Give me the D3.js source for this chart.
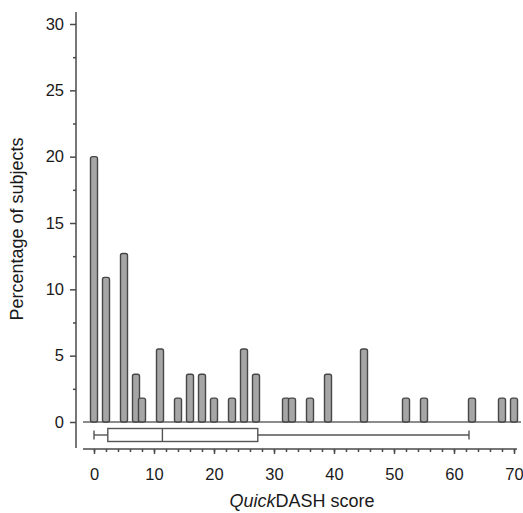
<!DOCTYPE html>
<html>
<head>
<meta charset="utf-8">
<script src="https://cdn.jsdelivr.net/npm/d3@7"></script>
<style>
  body { margin: 0; background: #fff; }
  text { font-family: "Liberation Sans", Arial, sans-serif; fill: #1a1a1a; }
</style>
</head>
<body>
<script>
// QuickDASH score bins and percentage of subjects (n = 55)
const scores = [0, 2, 5, 7, 8, 11, 14, 16, 18, 20, 23, 25, 27, 32, 33, 36, 39, 45, 52, 55, 63, 68, 70];
const percents = [20, 10.9, 12.7, 3.6, 1.8, 5.5, 1.8, 3.6, 3.6, 1.8, 1.8, 5.5, 3.6, 1.8, 1.8, 1.8, 3.6, 5.5, 1.8, 1.8, 1.8, 1.8, 1.8];
// box plot: lower whisker, Q1, median, Q3, upper whisker
const boxStats = [0, 2.3, 11.4, 27.3, 62.5];
const yTickLabels = [0, 5, 10, 15, 20, 25, 30];
const xTickLabels = [0, 10, 20, 30, 40, 50, 60, 70];

const width = 523;
const height = 513;

const svg = d3
  .select("body")
  .append("svg")
  .attr("width", width)
  .attr("height", height);

const xScale = d3.scaleLinear().domain([0, 70]).range([94, 514]);
const yScale = d3.scaleLinear().domain([0, 30]).range([422, 24]);

const axisColor = "#4a4a4a";

// y axis
const yAxisX = 76;
svg
  .append("line")
  .attr("x1", yAxisX)
  .attr("x2", yAxisX)
  .attr("y1", yScale(30.9))
  .attr("y2", 448)
  .attr("stroke", axisColor)
  .attr("stroke-width", 1.5);

const yMinor = d3.range(2.5, 30, 5);
svg
  .append("g")
  .attr("transform", `translate(${yAxisX}, 0)`)
  .call(d3.axisLeft(yScale).tickValues(yMinor).tickSize(3).tickFormat(""))
  .call((g) => g.select(".domain").remove())
  .call((g) => g.selectAll("line").attr("stroke", axisColor).attr("stroke-width", 1.5));

svg
  .append("g")
  .attr("transform", `translate(${yAxisX}, 0)`)
  .call(d3.axisLeft(yScale).tickValues(yTickLabels).tickSize(6).tickPadding(6))
  .call((g) => g.select(".domain").remove())
  .call((g) => g.selectAll("line").attr("stroke", axisColor).attr("stroke-width", 1.5))
  .call((g) =>
    g
      .selectAll("text")
      .attr("fill", "#1a1a1a")
      .style("font-size", "16.5px")
      .style("font-family", '"Liberation Sans", Arial, sans-serif')
  );

// baseline at 0
svg
  .append("line")
  .attr("x1", 83)
  .attr("x2", 521)
  .attr("y1", yScale(0))
  .attr("y2", yScale(0))
  .attr("stroke", "#8c8c8c")
  .attr("stroke-width", 2);

// bars
const barWidth = 7;
svg
  .selectAll("rect.bar")
  .data(scores)
  .enter()
  .append("rect")
  .attr("class", "bar")
  .attr("x", (d) => xScale(d) - barWidth / 2)
  .attr("y", (d, i) => yScale(percents[i]))
  .attr("width", barWidth)
  .attr("height", (d, i) => yScale(0) - yScale(percents[i]))
  .attr("rx", 2)
  .attr("fill", "#a6a6a6")
  .attr("stroke", "#464646")
  .attr("stroke-width", 1.4);

// box plot
const boxY = 435;
const boxH = 13;
const boxColor = "#555";
const box = svg.append("g").attr("stroke", boxColor).attr("stroke-width", 1.4);

box
  .append("line")
  .attr("x1", xScale(boxStats[0]))
  .attr("x2", xScale(boxStats[1]))
  .attr("y1", boxY)
  .attr("y2", boxY);
box
  .append("line")
  .attr("x1", xScale(boxStats[3]))
  .attr("x2", xScale(boxStats[4]))
  .attr("y1", boxY)
  .attr("y2", boxY);
[boxStats[0], boxStats[4]].forEach((v) => {
  box
    .append("line")
    .attr("x1", xScale(v))
    .attr("x2", xScale(v))
    .attr("y1", boxY - 4.5)
    .attr("y2", boxY + 4.5);
});
box
  .append("rect")
  .attr("x", xScale(boxStats[1]))
  .attr("y", boxY - boxH / 2)
  .attr("width", xScale(boxStats[3]) - xScale(boxStats[1]))
  .attr("height", boxH)
  .attr("fill", "#fff");
box
  .append("line")
  .attr("x1", xScale(boxStats[2]))
  .attr("x2", xScale(boxStats[2]))
  .attr("y1", boxY - boxH / 2)
  .attr("y2", boxY + boxH / 2);

// x axis
const xAxisY = 449;
svg
  .append("line")
  .attr("x1", 83)
  .attr("x2", 517)
  .attr("y1", xAxisY)
  .attr("y2", xAxisY)
  .attr("stroke", axisColor)
  .attr("stroke-width", 1.5);

svg
  .append("g")
  .attr("transform", `translate(0, ${xAxisY})`)
  .call(d3.axisBottom(xScale).tickValues(d3.range(0, 71, 2)).tickSize(3).tickFormat(""))
  .call((g) => g.select(".domain").remove())
  .call((g) => g.selectAll("line").attr("stroke", axisColor).attr("stroke-width", 1.5));

svg
  .append("g")
  .attr("transform", `translate(0, ${xAxisY})`)
  .call(d3.axisBottom(xScale).tickValues(xTickLabels).tickSize(5).tickPadding(14))
  .call((g) => g.select(".domain").remove())
  .call((g) => g.selectAll("line").attr("stroke", axisColor).attr("stroke-width", 1.5))
  .call((g) =>
    g
      .selectAll("text")
      .attr("fill", "#1a1a1a")
      .style("font-size", "16.5px")
      .style("font-family", '"Liberation Sans", Arial, sans-serif')
  );

// titles
const xTitle = svg
  .append("text")
  .attr("x", 302)
  .attr("y", 507)
  .attr("text-anchor", "middle")
  .style("font-size", "18px");
xTitle.append("tspan").style("font-style", "italic").text("Quick");
xTitle.append("tspan").text("DASH score");

svg
  .append("text")
  .attr("transform", "translate(23, 229) rotate(-90)")
  .attr("text-anchor", "middle")
  .style("font-size", "18px")
  .text("Percentage of subjects");
</script>
</body>
</html>
